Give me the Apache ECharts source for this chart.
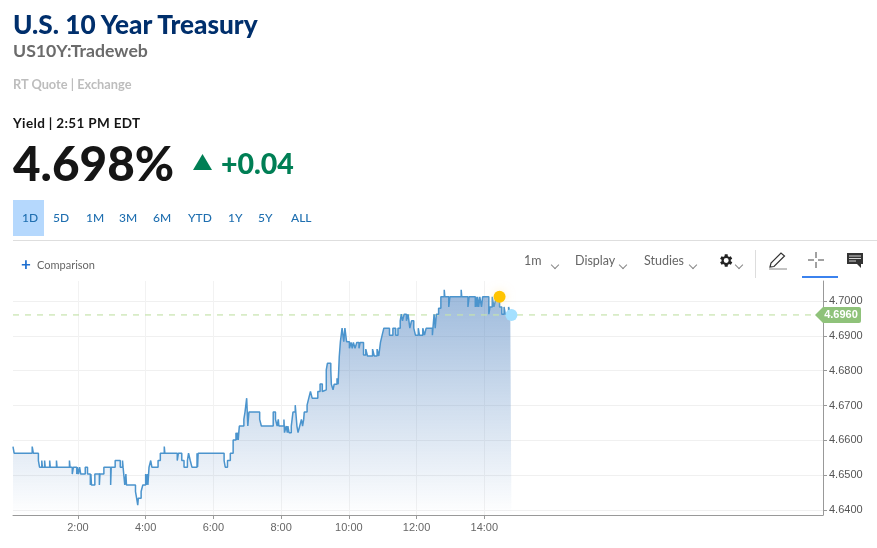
<!DOCTYPE html>
<html>
<head>
<meta charset="utf-8">
<title>U.S. 10 Year Treasury</title>
<script src="https://cdn.jsdelivr.net/npm/echarts@6/dist/echarts.min.js"></script>
<style>
html, body { margin: 0; padding: 0; background: #fff; }
#page { position: relative; width: 877px; height: 548px; overflow: hidden; font-family: Lato, "Open Sans", sans-serif; }
#chart { position: absolute; left: 0; top: 0; width: 877px; height: 548px; }
.t { position: absolute; white-space: nowrap; line-height: 1; }
.range { color: #1f6fb0; font-size: 12px; top: 212px; font-weight: 500; }
.tool { color: #666; font-size: 12.5px; top: 255px; }
.chev { position: absolute; width: 5px; height: 5px; border-right: 1px solid #888; border-bottom: 1px solid #888; transform: rotate(45deg); }
svg.i { position: absolute; }
</style>
</head>
<body>
<div id="page">
	<div id="chart"></div>
	<div class="t" style="left:13px;top:11px;font-size:26.2px;font-weight:900;color:#002f6c;">U.S. 10 Year Treasury</div>
	<div class="t" style="left:13px;top:42px;font-size:17.7px;font-weight:700;color:#6b6b6b;">US10Y:Tradeweb</div>
	<div class="t" style="left:13px;top:78px;font-size:12.8px;font-weight:700;color:#bdbdbd;">RT Quote | Exchange</div>
	<div class="t" style="left:13px;top:117px;font-size:13.5px;font-weight:700;letter-spacing:0.35px;color:#151515;">Yield | 2:51 PM EDT</div>
	<div class="t" style="left:13px;top:139px;font-size:47.6px;font-weight:900;color:#151515;">4.698%</div>
	<svg class="i" style="left:192px;top:153px;" width="21" height="18"><polygon points="10.5,1 20,17 1,17" fill="#007f55"/></svg>
	<div class="t" style="left:221px;top:149px;font-size:28.5px;font-weight:900;color:#007f55;">+0.04</div>

	<div style="position:absolute;left:13px;top:200px;width:31px;height:36px;background:#b5d8fd;"></div>
	<div class="t range" style="left:22px;">1D</div>
	<div class="t range" style="left:53px;">5D</div>
	<div class="t range" style="left:86px;">1M</div>
	<div class="t range" style="left:119px;">3M</div>
	<div class="t range" style="left:153px;">6M</div>
	<div class="t range" style="left:188px;">YTD</div>
	<div class="t range" style="left:228px;">1Y</div>
	<div class="t range" style="left:258px;">5Y</div>
	<div class="t range" style="left:291px;">ALL</div>
	<div style="position:absolute;left:13px;top:240px;width:864px;height:1px;background:#dedede;"></div>

	<div class="t" style="left:21px;top:255px;font-size:17px;font-weight:700;color:#1f6fd0;">+</div>
	<div class="t" style="left:37px;top:259px;font-size:11px;color:#666;">Comparison</div>

	<div class="t tool" style="left:524px;top:255px;">1m</div><div class="chev" style="left:552px;top:262px;"></div>
	<div class="t tool" style="left:575px;top:255px;">Display</div><div class="chev" style="left:620px;top:262px;"></div>
	<div class="t tool" style="left:644px;top:255px;">Studies</div><div class="chev" style="left:690px;top:262px;"></div>
	<svg class="i" style="left:717px;top:252px;" width="17" height="17" viewBox="0 0 24 24"><path fill="#222" d="M19.4 13a7.6 7.6 0 0 0 0-2l2.1-1.6-2-3.5-2.5 1a7.6 7.6 0 0 0-1.7-1L15 3.2h-4l-.4 2.7a7.6 7.6 0 0 0-1.7 1l-2.5-1-2 3.5L6.500 11a7.6 7.6 0 0 0 0 2l-2.100 1.600 2 3.500 2.500-1a7.6 7.6 0 0 0 1.700 1l.4 2.700h4l.4-2.700a7.600 7.600 0 0 0 1.700-1l2.500 1 2-3.500zM13 15.500a3.500 3.500 0 1 1 0-7 3.500 3.500 0 0 1 0 7z"/></svg>
	<div class="chev" style="left:736px;top:262px;"></div>
	<div style="position:absolute;left:755px;top:250px;width:1px;height:28px;background:#ddd;"></div>
	<svg class="i" style="left:768px;top:251px;" width="20" height="19"><path d="M2 16 L3 12 L13 2 L16.500 5 L6 15.500 Z" fill="none" stroke="#333" stroke-width="1.200"/><path d="M1 18 H19" stroke="#888" stroke-width="1"/></svg>
	<svg class="i" style="left:808px;top:252px;" width="16" height="16"><path d="M8 0 V6 M8 10 V16 M0 8 H6 M10 8 H16" stroke="#444" stroke-width="1"/></svg>
	<div style="position:absolute;left:802px;top:276px;width:36px;height:2px;background:#3b82ee;"></div>
	<svg class="i" style="left:847px;top:253px;" width="16" height="15"><path d="M0 0 H16 V11 H14 V15 L10 11 H0 Z" fill="#333"/><path d="M2 3 H14 M2 5.500 H14 M2 8 H9" stroke="#fff" stroke-width="0.800"/></svg>
</div>
<script>
var myChart = echarts.init(document.getElementById('chart'));

// minutes after midnight at which the quote changes, and the yield from then on
var minutes = [
	5, 7, 39, 41, 50, 52, 56, 57, 61, 62, 70, 71, 82, 83, 105, 106, 110, 112, 118, 119,
	121, 123, 125, 133, 137, 142, 143, 144, 150, 153, 158, 159, 166, 178, 179, 186, 195, 199, 200, 203,
	205, 206, 222, 224, 226, 227, 232, 235, 240, 241, 243, 244, 246, 249, 251, 262, 266, 273, 274, 296,
	298, 304, 308, 314, 316, 319, 322, 331, 332, 333, 379, 381, 385, 390, 395, 400, 401, 402, 404, 405,
	406, 414, 416, 419, 421, 423, 442, 445, 466, 470, 473, 475, 476, 485, 486, 489, 491, 492, 494, 498,
	501, 505, 508, 510, 513, 516, 518, 520, 521, 526, 529, 532, 535, 545, 549, 553, 556, 560, 562, 568,
	569, 572, 574, 579, 581, 583, 585, 588, 591, 593, 596, 601, 604, 606, 608, 611, 614, 618, 620, 626,
	630, 633, 642, 645, 650, 653, 656, 659, 662, 672, 678, 683, 687, 691, 693, 695, 698, 702, 705, 708,
	711, 715, 718, 723, 725, 731, 734, 737, 748, 751, 753, 755, 759, 763, 769, 770, 777, 779, 799, 800,
	811, 813, 824, 825, 827, 828, 830, 832, 835, 837, 848, 850, 854, 857, 860, 863, 867, 871, 875, 877,
	883, 886, 888
];
var yields = [
	4.6582, 4.6563, 4.6582, 4.6563, 4.6542, 4.6523, 4.6542, 4.6523, 4.6542, 4.6523, 4.6542, 4.6523, 4.6542, 4.6523, 4.6542, 4.6523, 4.6503, 4.6523, 4.6503, 4.6523,
	4.6503, 4.6523, 4.6503, 4.6523, 4.6503, 4.6472, 4.6503, 4.6472, 4.6503, 4.6503, 4.6472, 4.6503, 4.6523, 4.6472, 4.6523, 4.6542, 4.6523, 4.6542, 4.6523, 4.6472,
	4.6503, 4.6472, 4.6453, 4.6434, 4.6414, 4.6434, 4.6453, 4.6472, 4.6503, 4.6472, 4.6503, 4.6472, 4.6523, 4.6542, 4.6523, 4.6542, 4.6563, 4.6582, 4.6563, 4.6542,
	4.6563, 4.6542, 4.6523, 4.6542, 4.6563, 4.6542, 4.6523, 4.6563, 4.6523, 4.6563, 4.6542, 4.6523, 4.6542, 4.6563, 4.6601, 4.6622, 4.6601, 4.6622, 4.6601, 4.6622,
	4.6641, 4.6660, 4.6681, 4.6721, 4.6641, 4.6681, 4.6660, 4.6641, 4.6681, 4.6660, 4.6641, 4.6660, 4.6641, 4.6660, 4.6622, 4.6641, 4.6622, 4.6641, 4.6622, 4.6641,
	4.6681, 4.6701, 4.6641, 4.6622, 4.6641, 4.6660, 4.6641, 4.6660, 4.6681, 4.6701, 4.6721, 4.6740, 4.6721, 4.6740, 4.6762, 4.6740, 4.6745, 4.6802, 4.6821, 4.6802,
	4.6761, 4.6745, 4.6761, 4.6778, 4.6761, 4.6840, 4.6883, 4.6922, 4.6883, 4.6922, 4.6883, 4.6864, 4.6881, 4.6864, 4.6881, 4.6864, 4.6881, 4.6864, 4.6881, 4.6845,
	4.6862, 4.6842, 4.6862, 4.6842, 4.6862, 4.6842, 4.6881, 4.6902, 4.6922, 4.6902, 4.6922, 4.6902, 4.6922, 4.6943, 4.6962, 4.6943, 4.6962, 4.6943, 4.6962, 4.6922,
	4.6943, 4.6922, 4.6902, 4.6922, 4.6902, 4.6922, 4.6902, 4.6922, 4.6902, 4.6962, 4.6922, 4.6962, 4.6979, 4.7012, 4.7032, 4.7012, 4.6983, 4.7012, 4.7032, 4.7012,
	4.6983, 4.7012, 4.6983, 4.7012, 4.6983, 4.7012, 4.6983, 4.7012, 4.6983, 4.7012, 4.6962, 4.6983, 4.7012, 4.6983, 4.7003, 4.7012, 4.6983, 4.6962, 4.6983, 4.6962,
	4.6983, 4.6962, 4.6960
];
var xTicks = [120, 240, 360, 480, 600, 720, 840];
var yTicks = [4.64, 4.65, 4.66, 4.67, 4.68, 4.69, 4.70];
var lastPrice = 4.6960;
var eventPoint = [867, 4.7012];
var axisStart = 5;
var axisEnd = 1440;

var lineData = [];
for (var i = 0; i < minutes.length; i++) {
	lineData.push([minutes[i], yields[i]]);
}

var option = {
	animation: false,
	grid: { left: 13, right: 54, top: 281, bottom: 33 },
	xAxis: {
		type: 'value',
		min: axisStart,
		max: axisEnd,
		axisLine: { lineStyle: { color: '#999' } },
		axisTick: { show: true, length: 4, customValues: xTicks, lineStyle: { color: '#999' } },
		axisLabel: {
			customValues: xTicks,
			color: '#666',
			fontFamily: 'Liberation Sans',
			fontSize: 11,
			margin: 7,
			formatter: function (v) { return (v / 60) + ':00'; }
		},
		splitLine: { show: true, lineStyle: { color: '#f2f2f2' } }
	},
	yAxis: {
		type: 'value',
		position: 'right',
		min: 4.63856,
		max: 4.70574,
		axisLine: { show: true, lineStyle: { color: '#999' } },
		axisTick: { show: true, length: 4, customValues: yTicks, lineStyle: { color: '#999' } },
		axisLabel: {
			customValues: yTicks,
			color: '#555',
			fontFamily: 'Liberation Sans',
			fontSize: 11,
			margin: 6,
			formatter: function (v) { return v.toFixed(4); }
		},
		splitLine: { show: true, lineStyle: { color: '#f0f0f0' } }
	},
	series: [
		{
			// last price line
			type: 'line',
			symbol: 'none',
			silent: true,
			data: [[axisStart, lastPrice], [axisEnd, lastPrice]],
			lineStyle: { color: '#c6e3ac', type: [6, 6], width: 1.2 }
		},
		{
			type: 'line',
			step: 'end',
			symbol: 'none',
			clip: false,
			data: lineData,
			lineStyle: { color: '#4b94cd', width: 1.5 },
			areaStyle: {
				opacity: 1,
				color: new echarts.graphic.LinearGradient(0, 0, 0, 1, [
					{ offset: 0, color: 'rgba(75,128,190,0.55)' },
					{ offset: 0.5, color: 'rgba(75,128,190,0.27)' },
					{ offset: 1, color: 'rgba(75,128,190,0)' }
				])
			},
			markPoint: {
				silent: true,
				data: [
					{
						coord: eventPoint,
						symbol: 'circle',
						symbolSize: 12,
						itemStyle: { color: '#ffc400', shadowBlur: 10, shadowColor: 'rgba(255,230,160,0.5)' },
						label: { show: false }
					},
					{
						coord: [minutes[minutes.length - 1], lastPrice],
						symbol: 'circle',
						symbolSize: 12,
						itemStyle: { color: '#a4e0ff' },
						label: { show: false }
					},
					{
						coord: [axisEnd, lastPrice],
						symbol: 'path://M0 8 L8 0 H44 Q46 0 46 2 V14 Q46 16 44 16 H8 Z',
						symbolSize: [46, 16],
						symbolKeepAspect: false,
						symbolOffset: [15, 0],
						itemStyle: { color: '#8fc27a' },
						label: {
							show: true,
							position: 'inside',
							offset: [3, 0],
							color: '#fff',
							fontFamily: 'Liberation Sans',
							fontWeight: 'bold',
							fontSize: 11,
							formatter: lastPrice.toFixed(4)
						}
					}
				]
			}
		}
	]
};

myChart.setOption(option);
</script>
</body>
</html>
